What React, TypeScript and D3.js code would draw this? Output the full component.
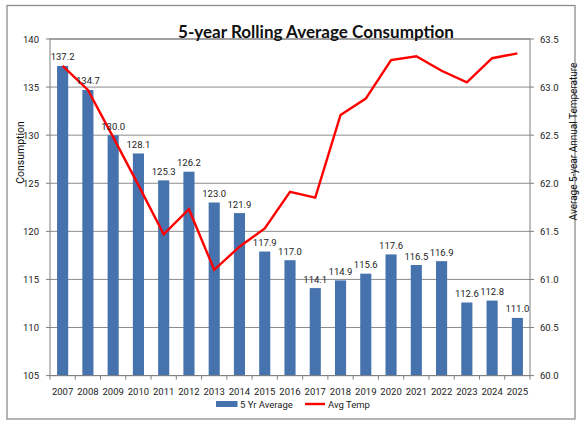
import React from "react";
import * as d3 from "d3";

const years = ["2007","2008","2009","2010","2011","2012","2013","2014","2015","2016","2017","2018","2019","2020","2021","2022","2023","2024","2025"];
const consumption = [137.2,134.7,130.0,128.1,125.3,126.2,123.0,121.9,117.9,117.0,114.1,114.9,115.6,117.6,116.5,116.9,112.6,112.8,111.0];
const avgTemp = [63.22,62.97,62.48,61.98,61.47,61.73,61.10,61.34,61.53,61.91,61.85,62.71,62.88,63.28,63.32,63.17,63.05,63.30,63.35];
const leftTicks = [105,110,115,120,125,130,135,140];
const rightTicks = [60.0,60.5,61.0,61.5,62.0,62.5,63.0,63.5];

const W = 582, H = 426;
const plot = { left: 50, right: 530, top: 39, bottom: 375.6 };
const FONT = "Roboto, 'Noto Sans', sans-serif";
const BAR = "#4673AE";
const GRID = "#8c8c8c";

export default function App() {
  const x = d3.scaleBand<string>().domain(years).range([plot.left, plot.right]).padding(0);
  const yL = d3.scaleLinear().domain([105, 140]).range([plot.bottom, plot.top]);
  const yR = d3.scaleLinear().domain([60, 63.5]).range([plot.bottom, plot.top]);
  const bw = x.bandwidth() * 0.44;
  const cx = (y: string) => (x(y) as number) + x.bandwidth() / 2;
  const line = d3.line<number>().x((_, i) => cx(years[i])).y((d) => yR(d));

  return (
    <div style={{ position: "absolute", left: 0, top: 0 }}>
      <svg width={W} height={H} style={{ display: "block", background: "#fff" }}>
        <rect x={7} y={5.5} width={568} height={413.5} fill="#fff" stroke="#8e8e8e" strokeWidth={1.3} />
        {/* gridlines */}
        {leftTicks.map((t) => (
          <line key={"g" + t} x1={plot.left} x2={plot.right} y1={yL(t)} y2={yL(t)} stroke={GRID} strokeWidth={1} />
        ))}
        {/* bars */}
        {consumption.map((v, i) => (
          <rect key={"b" + i} x={cx(years[i]) - bw / 2} y={yL(v)} width={bw} height={plot.bottom - yL(v)} fill={BAR} />
        ))}
        {/* plot border */}
        <rect x={plot.left} y={plot.top} width={plot.right - plot.left} height={plot.bottom - plot.top} fill="none" stroke="#7f7f7f" strokeWidth={1} />
        {/* left ticks */}
        {leftTicks.map((t) => (
          <g key={"lt" + t}>
            <line x1={plot.left - 4} x2={plot.left} y1={yL(t)} y2={yL(t)} stroke="#7f7f7f" />
            <text x={39} y={yL(t) + 3.5} textAnchor="end" fontFamily={FONT} fontSize={9.5} fill="#222">{t}</text>
          </g>
        ))}
        {/* right ticks */}
        {rightTicks.map((t) => (
          <g key={"rt" + t}>
            <line x1={plot.right} x2={plot.right + 4} y1={yR(t)} y2={yR(t)} stroke="#7f7f7f" />
            <text x={540} y={yR(t) + 3.5} textAnchor="start" fontFamily={FONT} fontSize={9.5} fill="#222">{t.toFixed(1)}</text>
          </g>
        ))}
        {/* x ticks */}
        {years.map((y, i) => (
          <line key={"xt" + i} x1={x(y) as number} x2={x(y) as number} y1={plot.bottom} y2={plot.bottom + 4} stroke="#7f7f7f" />
        ))}
        <line x1={plot.right} x2={plot.right} y1={plot.bottom} y2={plot.bottom + 4} stroke="#7f7f7f" />
        {years.map((y) => (
          <text key={"xl" + y} x={cx(y)} y={395} textAnchor="middle" fontFamily={FONT} fontSize={9.5} fill="#222">{y}</text>
        ))}
        {/* line */}
        <path d={line(avgTemp) || ""} fill="none" stroke="#FF0000" strokeWidth={2.4} strokeLinejoin="miter" />
        {/* data labels */}
        {consumption.map((v, i) => (
          <text key={"dl" + i} x={cx(years[i])} y={yL(v) - 5.5} textAnchor="middle" fontFamily={FONT} fontSize={9.5} fill="#222">{v.toFixed(1)}</text>
        ))}
        {/* title */}
        <text x={316} y={37.5} textAnchor="middle" fontFamily="Lato, 'Open Sans', sans-serif" fontWeight="bold" fontSize={16.5} fill="#111" textLength={276} lengthAdjust="spacingAndGlyphs">5-year Rolling Average Consumption</text>
        {/* axis titles */}
        <text transform="translate(24,152.5) rotate(-90)" textAnchor="middle" fontFamily={FONT} fontSize={10.5} fill="#111">Consumption</text>
        <text transform="translate(577,141.5) rotate(-90)" textAnchor="middle" fontFamily={FONT} fontSize={10} fill="#111">Average 5-year Annual Temperature</text>
        {/* legend */}
        <rect x={216} y={401} width={21.5} height={6} fill={BAR} />
        <text x={240} y={407.5} fontFamily={FONT} fontSize={9.5} fill="#222">5 Yr Average</text>
        <line x1={305} x2={325} y1={404} y2={404} stroke="#FF0000" strokeWidth={2.4} />
        <text x={328} y={407.5} fontFamily={FONT} fontSize={9.5} fill="#222">Avg Temp</text>
      </svg>
    </div>
  );
}
